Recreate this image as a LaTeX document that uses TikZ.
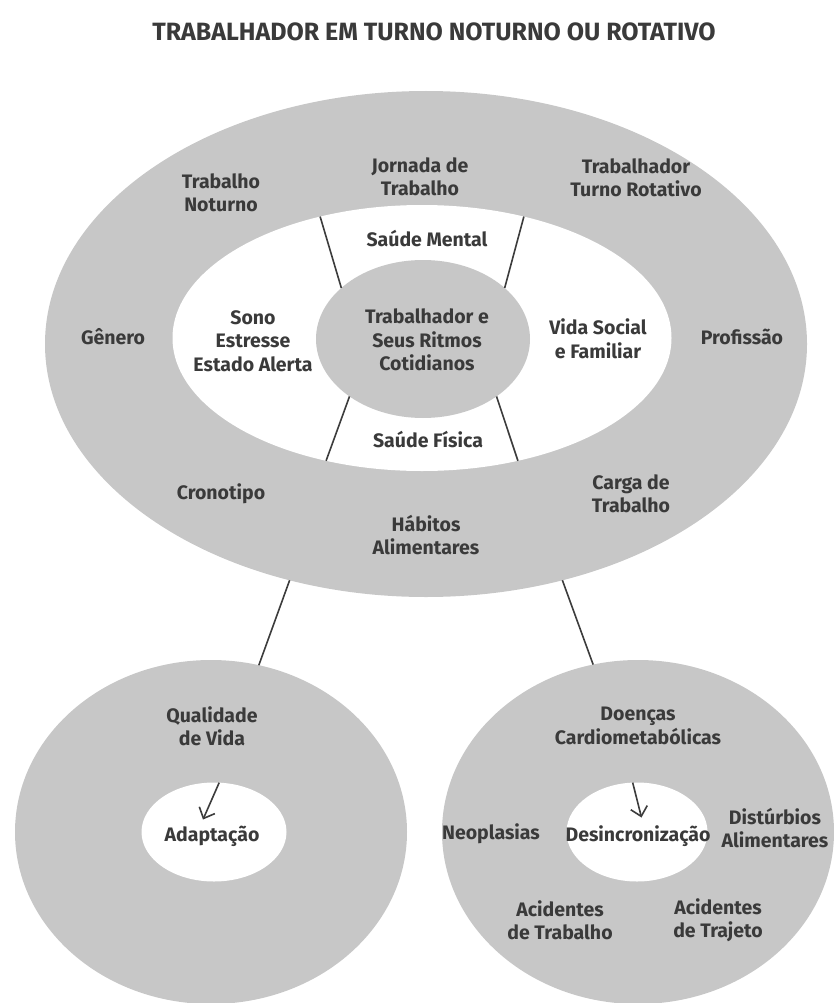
\documentclass[tikz,border=0pt]{standalone}
\usepackage{fontspec}
\setmainfont{Fira Sans}
\usetikzlibrary{shapes.geometric,arrows.meta}
\definecolor{discgray}{RGB}{199,199,199}
\definecolor{inkgray}{RGB}{58,58,58}
\definecolor{rulegray}{RGB}{60,60,60}

\begin{document}
\begin{tikzpicture}[x=1pt,y=-1pt,
  disc/.style={ellipse,fill=discgray,inner sep=0pt,outer sep=0pt},
  hole/.style={ellipse,fill=white,inner sep=0pt,outer sep=0pt},
  lbl/.style={align=center,text=inkgray,inner sep=0pt,font=\bfseries\fontsize{19.5}{23.5}\selectfont},
  sep/.style={draw=rulegray,line width=1.6pt},
  arr/.style={sep,-{Straight Barb[length=9pt,width=17pt,line width=1.6pt]}}]
\useasboundingbox (0,0) rectangle (834,1003);
\node[lbl,font=\bfseries\fontsize{25}{30}\selectfont] (title) at (434,32) {TRABALHADOR EM TURNO NOTURNO OU ROTATIVO};

\node[disc,minimum width=762pt,minimum height=506pt] (outer) at (426,344) {};
\node[hole,minimum width=499pt,minimum height=266pt] (ring) at (422,338) {};
\node[disc,minimum width=214pt,minimum height=158pt] (core) at (423,339) {};
\node[disc,minimum width=392pt,minimum height=344pt] (life) at (211,832) {};
\node[disc,minimum width=392pt,minimum height=344pt] (ills) at (638,832) {};
\node[hole,minimum width=145pt,minimum height=99pt] (adaptbg) at (214,832) {};
\node[hole,minimum width=141pt,minimum height=99pt] (desyncbg) at (637,832) {};

\draw[sep] (core.148) -- (ring.130);
\draw[sep] (core.32) -- (ring.50);
\draw[sep] (core.218) -- (ring.232);
\draw[sep] (core.322) -- (ring.308);
\draw[sep] (outer.240) -- (life.74);
\draw[sep] (outer.300) -- (ills.105);
\draw[arr] (adaptbg.84) -- ([xshift=-11pt,yshift=-37pt]adaptbg.north);
\draw[arr] (desyncbg.95) -- ([xshift=4.5pt,yshift=-35pt]desyncbg.north);

\node[lbl] (jornada) at (420,177) {Jornada de\\Trabalho};
\node[lbl] (noturno) at (221,193) {Trabalho\\Noturno};
\node[lbl] (rotativo) at (636,178) {Trabalhador\\Turno Rotativo};
\node[lbl] (genero) at (113,337) {Gênero};
\node[lbl] (profissao) at (742,337) {Profissão};
\node[lbl] (mental) at (427,239) {Saúde Mental};
\node[lbl] (sono) at (253,341) {Sono\\Estresse\\Estado Alerta};
\node[lbl] (ritmos) at (427,340) {Trabalhador e\\Seus Ritmos\\Cotidianos};
\node[lbl] (social) at (598,339) {Vida Social\\e Familiar};
\node[lbl] (fisica) at (428,440) {Saúde Física};
\node[lbl] (crono) at (221,494) {Cronotipo};
\node[lbl] (carga) at (631,494) {Carga de\\Trabalho};
\node[lbl] (habitos) at (426,535) {Hábitos\\Alimentares};

\node[lbl] (qualidade) at (212,726) {Qualidade\\de Vida};
\node[lbl] (adapt) at (212,836) {Adaptação};
\node[lbl] (doencas) at (638,726) {Doenças\\Cardiometabólicas};
\node[lbl] (neoplasias) at (491,834) {Neoplasias};
\node[lbl] (desinc) at (638,836) {Desincronização};
\node[lbl] (disturbios) at (775,828) {Distúrbios\\Alimentares};
\node[lbl] (acidtrab) at (560,920) {Acidentes\\de Trabalho};
\node[lbl] (acidtraj) at (718,920) {Acidentes\\de Trajeto};
\end{tikzpicture}
\end{document}
